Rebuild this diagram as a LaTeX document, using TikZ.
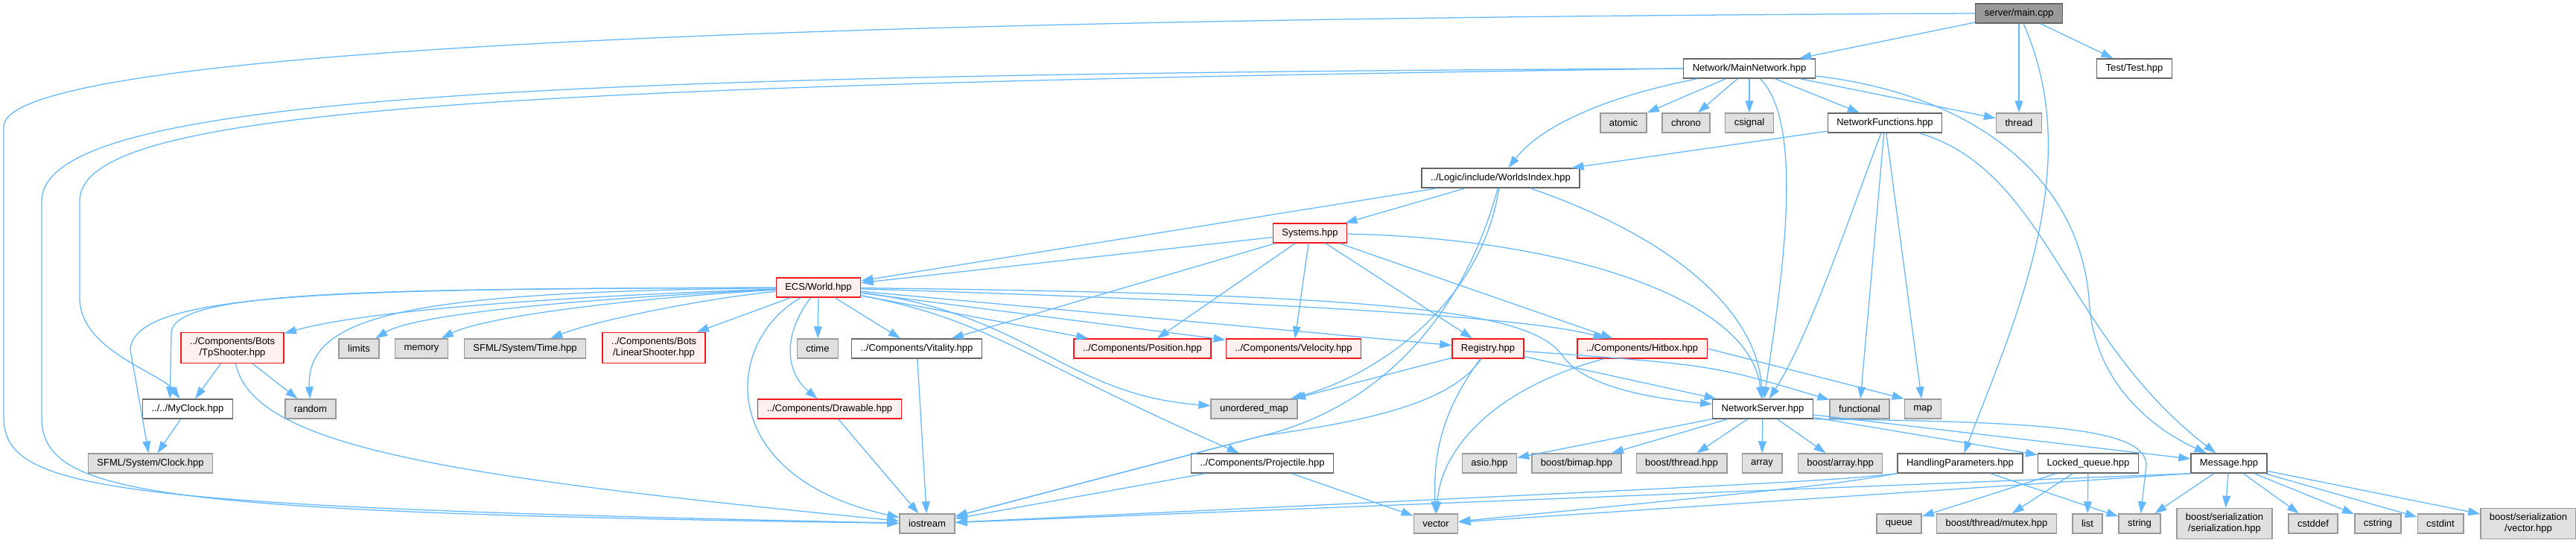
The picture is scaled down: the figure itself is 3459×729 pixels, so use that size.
\documentclass[tikz,border=0pt]{standalone}
\usepackage{fontspec}
\setmainfont{Liberation Sans}
\usetikzlibrary{arrows.meta}
\definecolor{cedge}{HTML}{63B8FF}
\definecolor{cdark}{HTML}{666666}
\definecolor{cgrey}{HTML}{999999}
\definecolor{cfill}{HTML}{E0E0E0}
\definecolor{cred}{HTML}{F01818}
\definecolor{cpink}{HTML}{FFF0F0}
\tikzset{
  every picture/.style={line width=0.9pt},
  hdr/.style={draw=cdark, fill=white, line width=1pt, font=\fontsize{9.25}{10.7}\selectfont, align=center, inner xsep=0.3cm, inner ysep=0pt, minimum height=0.65cm},
  std/.style={hdr, draw=cgrey, fill=cfill},
  bad/.style={hdr, draw=cred, fill=cpink},
  root/.style={hdr, fill=cgrey},
  tall/.style={minimum height=1.025cm},
  inc/.style={-{Triangle[length=0.4cm, width=0.27cm]}, draw=cedge, line width=0.9pt},
}

\begin{document}
\begin{tikzpicture}[x=0.025cm, y=-0.025cm]
  \useasboundingbox (0,0) rectangle (3459,729);
  \fill[white] (0,0) rectangle (3459,729);
  % entry file and network layer
  \node[root] (main) at (2711,18) {server/main.cpp};
  \node[hdr] (mainnet) at (2349,92) {Network/MainNetwork.hpp};
  \node[hdr] (test) at (2866,92) {Test/Test.hpp};
  \node[std] (atomic) at (2180,165) {atomic};
  \node[std] (chrono) at (2264,165) {chrono};
  \node[std] (csignal) at (2349,165) {csignal};
  \node[hdr] (netfunc) at (2531,165) {NetworkFunctions.hpp};
  \node[std] (thread) at (2711,165) {thread};
  \node[hdr] (worlds) at (2015,239) {../Logic/include/WorldsIndex.hpp};
  \node[bad] (systems) at (1759,313) {Systems.hpp};
  \node[bad] (world) at (1099,386) {ECS/World.hpp};
  % components row
  \node[bad, tall] (tpshooter) at (312,467) {../Components/Bots\\/TpShooter.hpp};
  \node[std] (limits) at (482,468) {limits};
  \node[std] (memory) at (566,468) {memory};
  \node[std] (sfmltime) at (705,468) {SFML/System/Time.hpp};
  \node[bad, tall] (linshooter) at (878,467) {../Components/Bots\\/LinearShooter.hpp};
  \node[std] (ctime) at (1098,468) {ctime};
  \node[hdr] (vitality) at (1231,468) {../Components/Vitality.hpp};
  \node[bad] (position) at (1534,468) {../Components/Position.hpp};
  \node[bad] (velocity) at (1737,468) {../Components/Velocity.hpp};
  \node[bad] (registry) at (1998,468) {Registry.hpp};
  \node[bad] (hitbox) at (2205,468) {../Components/Hitbox.hpp};
  % middle row
  \node[hdr] (myclock) at (252,549) {../../MyClock.hpp};
  \node[std] (random) at (417,549) {random};
  \node[bad] (drawable) at (1114,549) {../Components/Drawable.hpp};
  \node[std] (umap) at (1684,549) {unordered\_map};
  \node[hdr] (netserver) at (2367,549) {NetworkServer.hpp};
  \node[std] (functional) at (2497,549) {functional};
  \node[std] (map) at (2582,549) {map};
  % lower row
  \node[std] (sfmlclock) at (202,622) {SFML/System/Clock.hpp};
  \node[hdr] (projectile) at (1695,622) {../Components/Projectile.hpp};
  \node[std] (asio) at (2000,622) {asio.hpp};
  \node[std] (bimap) at (2117,622) {boost/bimap.hpp};
  \node[std] (bthread) at (2258,622) {boost/thread.hpp};
  \node[std] (array) at (2366,622) {array};
  \node[std] (barray) at (2471,622) {boost/array.hpp};
  \node[hdr] (handling) at (2632,622) {HandlingParameters.hpp};
  \node[hdr] (locked) at (2804,622) {Locked\_queue.hpp};
  \node[hdr] (message) at (2993,622) {Message.hpp};
  % system headers at the bottom
  \node[std] (iostream) at (1245,703) {iostream};
  \node[std] (vector) at (1928,703) {vector};
  \node[std] (queue) at (2550,703) {queue};
  \node[std] (mutex) at (2681,703) {boost/thread/mutex.hpp};
  \node[std] (list) at (2803,703) {list};
  \node[std] (string) at (2873,703) {string};
  \node[std, tall] (serial) at (2987,703) {boost/serialization\\/serialization.hpp};
  \node[std] (cstddef) at (3106,703) {cstddef};
  \node[std] (cstring) at (3193,703) {cstring};
  \node[std] (cstdint) at (3277,703) {cstdint};
  \node[std, tall] (bvector) at (3395,703) {boost/serialization\\/vector.hpp};
  % server/main.cpp
  \draw[inc] (main) -- (mainnet);
  \draw[inc] (main) -- (thread);
  \draw[inc] (main) -- (test);
  \draw[inc] (main) .. controls (2800,220) and (2710,420) .. (handling);
  \draw[inc] (main.west) .. controls (1000,25) and (5,70) .. (5,170) -- (5,560) .. controls (5,660) and (150,680) .. (iostream);
  % Network/MainNetwork.hpp
  \draw[inc] (mainnet) .. controls (2130,135) and (2060,180) .. (worlds);
  \draw[inc] (mainnet) -- (atomic);
  \draw[inc] (mainnet) -- (chrono);
  \draw[inc] (mainnet) -- (csignal);
  \draw[inc] (mainnet) -- (netfunc);
  \draw[inc] (mainnet) -- (thread);
  \draw[inc] (mainnet) .. controls (2430,170) and (2385,420) .. (netserver);
  \draw[inc] (mainnet) .. controls (2640,125) and (2790,230) .. (2805,400) .. controls (2810,520) and (2900,580) .. (message);
  \draw[inc] (mainnet.west) .. controls (700,100) and (56,130) .. (56,270) -- (56,560) .. controls (56,665) and (200,688) .. (iostream);
  \draw[inc] (mainnet.west) .. controls (600,115) and (107,150) .. (107,270) -- (107,400) .. controls (107,470) and (215,500) .. (myclock);
  % NetworkFunctions.hpp
  \draw[inc] (netfunc) -- (worlds);
  \draw[inc] (netfunc) .. controls (2480,300) and (2430,450) .. (netserver);
  \draw[inc] (netfunc) -- (functional);
  \draw[inc] (netfunc) -- (map);
  \draw[inc] (netfunc) .. controls (2750,230) and (2770,450) .. (message);
  % WorldsIndex.hpp
  \draw[inc] (worlds) -- (world);
  \draw[inc] (worlds) -- (systems);
  \draw[inc] (worlds) .. controls (1990,400) and (1860,500) .. (umap);
  \draw[inc] (worlds) .. controls (1960,440) and (1840,550) .. (1695,585) -- (iostream);
  \draw[inc] (worlds) .. controls (2250,320) and (2360,420) .. (netserver);
  % Systems.hpp
  \draw[inc] (systems) -- (world);
  \draw[inc] (systems) -- (vitality);
  \draw[inc] (systems) -- (position);
  \draw[inc] (systems) -- (velocity);
  \draw[inc] (systems) -- (registry);
  \draw[inc] (systems) -- (hitbox);
  \draw[inc] (systems) .. controls (2100,320) and (2350,400) .. (netserver);
  % ECS/World.hpp
  \draw[inc] (world) .. controls (700,400) and (480,420) .. (tpshooter);
  \draw[inc] (world) .. controls (800,400) and (560,420) .. (limits);
  \draw[inc] (world) .. controls (850,400) and (650,425) .. (memory);
  \draw[inc] (world) .. controls (950,400) and (800,430) .. (sfmltime);
  \draw[inc] (world) -- (linshooter);
  \draw[inc] (world) -- (ctime);
  \draw[inc] (world) -- (vitality);
  \draw[inc] (world) -- (position);
  \draw[inc] (world) -- (velocity);
  \draw[inc] (world) -- (registry);
  \draw[inc] (world) .. controls (1700,405) and (2050,425) .. (hitbox);
  \draw[inc] (world) .. controls (1900,395) and (2060,420) .. (2100,480) .. controls (2130,520) and (2220,535) .. (netserver);
  \draw[inc] (world) .. controls (1380,420) and (1430,530) .. (umap);
  \draw[inc] (world) .. controls (1330,430) and (1370,480) .. (projectile);
  \draw[inc] (world) .. controls (1050,450) and (1055,500) .. (drawable);
  \draw[inc] (world) .. controls (970,460) and (960,640) .. (iostream);
  \draw[inc] (world) .. controls (560,392) and (410,420) .. (random);
  \draw[inc] (world) .. controls (500,388) and (232,390) .. (230,447) -- (myclock.150);
  \draw[inc] (world) .. controls (450,388) and (178,392) .. (175,470) -- (sfmlclock);
  % bots and components
  \draw[inc] (tpshooter) -- (myclock);
  \draw[inc] (tpshooter) -- (random);
  \draw[inc] (tpshooter) .. controls (340,600) and (600,640) .. (iostream);
  \draw[inc] (myclock) -- (sfmlclock);
  \draw[inc] (drawable) -- (iostream);
  \draw[inc] (vitality) -- (iostream);
  \draw[inc] (projectile) -- (iostream);
  \draw[inc] (projectile) -- (vector);
  % Registry.hpp and Hitbox.hpp
  \draw[inc] (registry) -- (umap);
  \draw[inc] (registry) .. controls (1950,540) and (1840,565) .. (1695,585) -- (iostream);
  \draw[inc] (registry) .. controls (1930,560) and (1925,620) .. (vector);
  \draw[inc] (registry) -- (netserver);
  \draw[inc] (registry) .. controls (2300,490) .. (functional);
  \draw[inc] (hitbox) .. controls (2010,520) and (1935,600) .. (vector);
  \draw[inc] (hitbox.east) -- (map.north west);
  % NetworkServer.hpp
  \draw[inc] (netserver) -- (asio);
  \draw[inc] (netserver) -- (bimap);
  \draw[inc] (netserver) -- (bthread);
  \draw[inc] (netserver) -- (array);
  \draw[inc] (netserver) -- (barray);
  \draw[inc] (netserver) -- (locked);
  \draw[inc] (netserver) -- (message);
  \draw[inc] (netserver.south east) .. controls (2750,566) and (2882,575) .. (2882,625) -- (string);
  % HandlingParameters.hpp and Locked_queue.hpp
  \draw[inc] (handling.south west) .. controls (2450,646) .. (iostream);
  \draw[inc] (handling.south west) .. controls (2450,652) .. (vector);
  \draw[inc] (handling) -- (string);
  \draw[inc] (locked) -- (queue);
  \draw[inc] (locked) -- (mutex);
  \draw[inc] (locked) -- (list);
  % Message.hpp
  \draw[inc] (message.south west) -- (iostream);
  \draw[inc] (message.south west) -- (vector);
  \draw[inc] (message) -- (string);
  \draw[inc] (message) -- (serial);
  \draw[inc] (message) -- (cstddef);
  \draw[inc] (message) -- (cstring);
  \draw[inc] (message) -- (cstdint);
  \draw[inc] (message) -- (bvector);
\end{tikzpicture}
\end{document}
